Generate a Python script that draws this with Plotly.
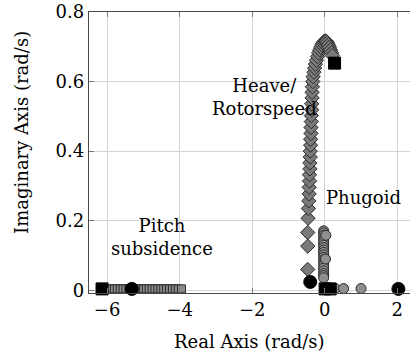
import plotly.graph_objects as go

# Pitch subsidence locus (gray squares on real axis)
pitch_x = [-5.96, -5.88, -5.80, -5.72, -5.64, -5.56, -5.48, -5.40, -5.32, -5.24,
           -5.16, -5.08, -5.00, -4.92, -4.84, -4.76, -4.68, -4.60, -4.52, -4.44,
           -4.36, -4.28, -4.20, -4.12, -4.04, -3.95]
pitch_y = [0.004] * len(pitch_x)

# Heave / rotorspeed locus (diamonds)
heave_x = [-0.47, -0.47, -0.47, -0.46, -0.45, -0.44, -0.43, -0.43, -0.42, -0.42,
           -0.41, -0.41, -0.40, -0.40, -0.39, -0.39, -0.38, -0.38, -0.37, -0.37,
           -0.36, -0.36, -0.35, -0.35, -0.34, -0.33, -0.32, -0.30, -0.28, -0.26,
           -0.23, -0.20, -0.17, -0.14, -0.11, -0.08, -0.05, -0.02, 0.01, 0.04,
           0.07, 0.10, 0.13, 0.16, 0.19, 0.21]
heave_y = [0.060, 0.127, 0.166, 0.207, 0.235, 0.257, 0.277, 0.296, 0.314, 0.332,
           0.349, 0.366, 0.383, 0.400, 0.417, 0.434, 0.451, 0.468, 0.485, 0.502,
           0.519, 0.536, 0.553, 0.569, 0.585, 0.600, 0.614, 0.627, 0.639, 0.650,
           0.661, 0.672, 0.682, 0.691, 0.699, 0.706, 0.711, 0.715, 0.717, 0.716,
           0.712, 0.706, 0.699, 0.691, 0.683, 0.675]

# Phugoid locus (gray circles)
phug_x = [-0.03, -0.03, -0.03, -0.03, -0.03, -0.03, -0.03, -0.03, -0.03, -0.03,
          -0.03, -0.03, -0.03, -0.03, -0.03, -0.03, -0.03, -0.03, -0.03, -0.03,
          0.03, 0.02, 0.10, 0.29, 0.52, 1.00]
phug_y = [0.171, 0.165, 0.158, 0.151, 0.144, 0.137, 0.130, 0.123, 0.116, 0.109,
          0.102, 0.095, 0.088, 0.080, 0.072, 0.064, 0.056, 0.048, 0.042, 0.036,
          0.158, 0.090, 0.005, 0.005, 0.005, 0.005]

# Poles (black circles) and zeros (black squares)
pole_x = [-5.32, -0.40, 2.03]
pole_y = [0.004, 0.024, 0.004]
zero_x = [-6.14, 0.01, 0.15, 0.27]
zero_y = [0.004, 0.004, 0.004, 0.653]

x_ticks = [-6, -4, -2, 0, 2]
y_ticks = [0, 0.2, 0.4, 0.6, 0.8]

FONT = "DejaVu Serif"
FS = 18

fig = go.Figure()
fig.add_trace(go.Scatter(x=pitch_x, y=pitch_y, mode="markers", cliponaxis=False,
                         marker=dict(symbol="square", size=8, color="#8a8a8a",
                                     line=dict(color="#2a2a2a", width=1))))
fig.add_trace(go.Scatter(x=heave_x, y=heave_y, mode="markers", cliponaxis=False,
                         marker=dict(symbol="diamond", size=11, color="#7a7a7a",
                                     line=dict(color="#2a2a2a", width=1))))
fig.add_trace(go.Scatter(x=phug_x, y=phug_y, mode="markers", cliponaxis=False,
                         marker=dict(symbol="circle", size=10, color="#8f8f8f",
                                     line=dict(color="#2a2a2a", width=1))))
fig.add_trace(go.Scatter(x=pole_x, y=pole_y, mode="markers", cliponaxis=False,
                         marker=dict(symbol="circle", size=13, color="black",
                                     line=dict(color="black", width=1))))
fig.add_trace(go.Scatter(x=zero_x, y=zero_y, mode="markers", cliponaxis=False,
                         marker=dict(symbol="square", size=12, color="black",
                                     line=dict(color="black", width=1))))

fig.update_layout(
    width=410, height=357,
    margin=dict(l=89, r=0, t=12, b=64),
    paper_bgcolor="white", plot_bgcolor="white",
    showlegend=False,
    font=dict(family=FONT, size=FS, color="black"),
    xaxis=dict(range=[-6.5, 2.35], tickvals=x_ticks, automargin=False,
               ticktext=["\u22126", "\u22124", "\u22122", "0", "2"],
               showgrid=True, gridcolor="#d4d4d4", gridwidth=1,
               zeroline=False, showline=True, linecolor="#4a4a4a", linewidth=1.3,
               mirror="ticks", ticks="inside", ticklen=5, tickcolor="#7a7a7a"),
    yaxis=dict(range=[-0.0078, 0.8], tickvals=y_ticks, automargin=False,
               ticktext=["0", "0.2", "0.4", "0.6", "0.8"],
               showgrid=True, gridcolor="#d4d4d4", gridwidth=1,
               zeroline=False, showline=True, linecolor="#4a4a4a", linewidth=1.3,
               mirror=False, ticks="inside", ticklen=5, tickcolor="#7a7a7a"),
)

ann = dict(showarrow=False, font=dict(family=FONT, size=FS, color="black"))
fig.add_annotation(text="Real Axis (rad/s)", xref="paper", yref="paper",
                   x=0.5, y=-0.174, xanchor="center", yanchor="middle", **ann)
fig.add_annotation(text="Imaginary Axis (rad/s)", xref="paper", yref="paper",
                   x=-0.209, y=0.573, xanchor="center", yanchor="middle",
                   textangle=-90, **ann)
fig.add_annotation(text="Heave/<br>Rotorspeed", x=-1.65, y=0.556, xref="x", yref="y",
                   align="center", **ann)
fig.add_annotation(text="Phugoid", x=1.07, y=0.268, xref="x", yref="y", **ann)
fig.add_annotation(text="Pitch<br>subsidence", x=-4.5, y=0.154, xref="x", yref="y",
                   align="center", **ann)

fig.write_html("out.html", config={"displayModeBar": False},
               post_script="document.body.style.margin='0';document.body.style.overflow='hidden';")
